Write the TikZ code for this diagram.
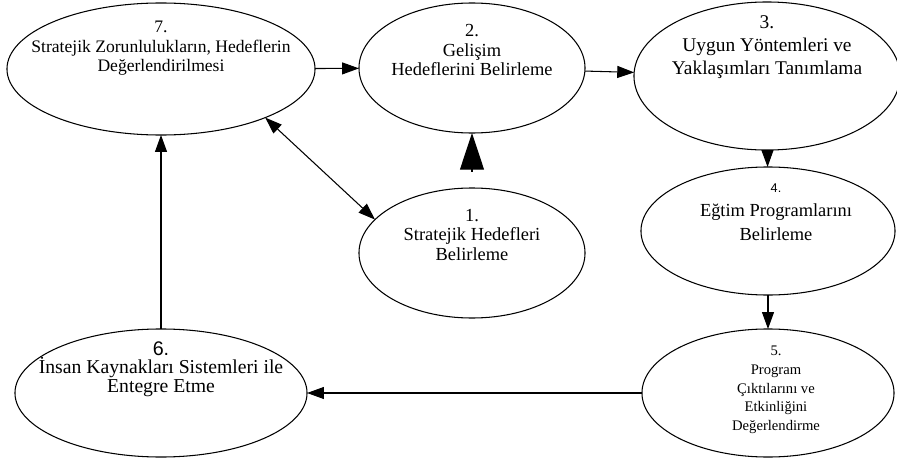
\documentclass[tikz,border=0pt]{standalone}
\usepackage{fontspec}
\setmainfont{Liberation Serif}
\newfontfamily\sansnum{Liberation Sans}
\usetikzlibrary{shapes.geometric,arrows.meta}

\begin{document}
\begin{tikzpicture}[x=0.025cm, y=0.025cm, line width=0.75pt,
        >={Triangle[length=12pt,width=8.5pt]},
        stage/.style={draw, ellipse, inner sep=0pt, outer sep=0pt},
        txt/.style={align=center, inner sep=0pt}]
        \useasboundingbox (0,0) rectangle (897,463);
        \node (e7) [stage, minimum width=7.7cm, minimum height=3.3cm] at (161,394) {};
        \node (e2) [stage, minimum width=5.65cm, minimum height=3.25cm] at (472,395) {};
        \node (e3) [stage, minimum width=6.65cm, minimum height=3.7cm] at (767,387) {};
        \node (e1) [stage, minimum width=5.65cm, minimum height=3.25cm] at (472,210) {};
        \node (e4) [stage, minimum width=6.35cm, minimum height=3.2cm] at (768,232) {};
        \node (e5) [stage, minimum width=6.3cm, minimum height=3.2cm] at (768,70) {};
        \node (e6) [stage, minimum width=7.3cm, minimum height=3.2cm] at (161,70) {};
        \node (t7) [txt, font=\fontsize{12.5}{13.8}\selectfont] at ([yshift=0.52cm]e7.center)
            {7.\\Stratejik Zorunlulukların, Hedeflerin\\Değerlendirilmesi};
        \node (t2) [txt, font=\fontsize{13.1}{14.2}\selectfont] at ([yshift=0.45cm]e2.center)
            {2.\\Gelişim\\Hedeflerini Belirleme};
        \node (t3) [txt, font=\fontsize{13.8}{16.5}\selectfont] at ([yshift=0.72cm]e3.center)
            {3.\\Uygun Yöntemleri ve\\Yaklaşımları Tanımlama};
        \node (t1) [txt, font=\fontsize{13.1}{14.2}\selectfont] at ([yshift=0.45cm]e1.center)
            {1.\\Stratejik Hedefleri\\Belirleme};
        \node (t4) [txt, font=\fontsize{13.1}{17}\selectfont] at ([xshift=0.2cm,yshift=0.46cm]e4.center)
            {{\sansnum\fontsize{9}{10}\selectfont 4.}\\Eğtim Programlarını\\Belirleme};
        \node (t5) [txt, font=\fontsize{10.4}{13.5}\selectfont] at ([xshift=0.2cm,yshift=0.08cm]e5.center)
            {5.\\Program\\Çıktılarını ve\\Etkinliğini\\Değerlendirme};
        \node (t6) [txt, font=\fontsize{14}{13.2}\selectfont] at ([yshift=0.6cm]e6.center)
            {{\sansnum 6.}\\İnsan Kaynakları Sistemleri ile\\Entegre Etme};
        \draw [->] (e7) -- (e2);
        \draw [->] (e2) -- (e3);
        \draw [->] (e3) -- (e4);
        \draw [->] (e4) -- (e5);
        \draw [->] (e5) -- (e6);
        \draw [->] (e6) -- (e7);
        \draw [<->] (e7.-25.7) -- (e1.161.7);
        \draw [-{Triangle[length=26pt,width=17pt]}, shorten <=0.4cm] (e1) -- (e2);
    \end{tikzpicture}
\end{document}
